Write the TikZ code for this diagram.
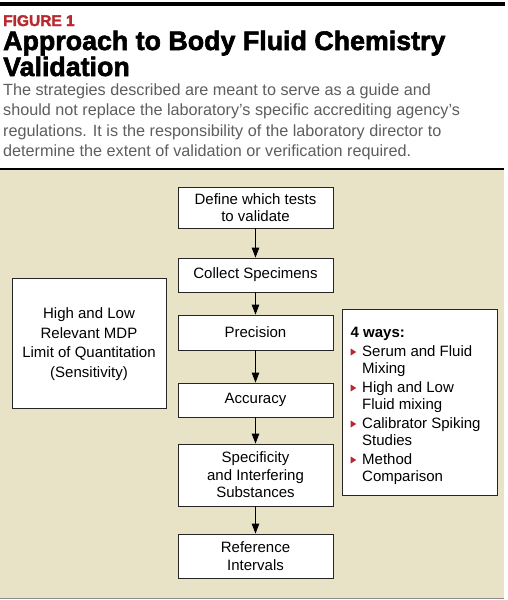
\documentclass[tikz,border=0pt]{standalone}
\usepackage{fontspec}
\setmainfont{Liberation Sans}
\newfontfamily\heavyfont[FakeBold=2.2]{Liberation Sans Bold}
\usetikzlibrary{arrows.meta}
\definecolor{figred}{HTML}{B8292F}
\definecolor{beige}{HTML}{E8E2C7}
\definecolor{paragray}{HTML}{5E5E5E}
\newcommand\redbul{\textcolor{figred}{\tikz[baseline=0pt]\fill (0pt,0.5pt)--(0pt,7.5pt)--(5.5pt,4pt)--cycle;}\hspace{6pt}}
\tikzset{
  stepbox/.style={draw=black!85, line width=0.8pt, fill=white, minimum width=155pt, align=center, inner sep=0pt, font=\fontsize{15}{17.5}\selectfont},
  flow/.style={-{Triangle[width=7.5pt,length=10pt]}, line width=0.8pt, black},
}
\begin{document}
\begin{tikzpicture}[x=1pt,y=-1pt]
\useasboundingbox (0,0) rectangle (508,600);
\fill[white] (0,0) rectangle (508,600);
% header
\fill[black] (0,2) rectangle (505,5.5);
\node[anchor=base west, inner sep=0pt, text=figred, font=\heavyfont\fontsize{15.5}{15.5}\selectfont] (fig) at (3,26) {FIGURE 1};
\node[anchor=base west, inner sep=0pt, font=\heavyfont\fontsize{26.8}{26.8}\selectfont] (t1) at (3,50) {Approach to Body Fluid Chemistry};
\node[anchor=base west, inner sep=0pt, font=\heavyfont\fontsize{26.8}{26.8}\selectfont] (t2) at (3,76) {Validation};
\node[anchor=base west, inner sep=0pt, text=paragray, align=left, font=\fontsize{16.2}{20.5}\selectfont] (para) at (3,156.5) {The strategies described are meant to serve as a guide and\\should not replace the laboratory’s specific accrediting agency’s\\regulations. It is the responsibility of the laboratory director to\\determine the extent of validation or verification required.};
% panel
\fill[beige] (0,169) rectangle (504,597.5);
\draw[black, line width=1.6pt] (0,169) -- (504,169);
\draw[black!45, line width=1pt] (0,598) -- (504,598);
% flow boxes
\node[stepbox, minimum height=41pt] (def) at (255.5,207.5) {Define which tests\\to validate};
\node[stepbox, minimum height=34pt] (col) at (255.5,275) {Collect Specimens};
\node[stepbox, minimum height=35pt] (prec) at (255.5,332.5) {Precision};
\node[stepbox, minimum height=34pt] (acc) at (255.5,400) {Accuracy};
\node[stepbox, minimum height=62pt] (spec) at (255.5,475) {Specificity\\and Interfering\\Substances};
\node[stepbox, minimum height=44pt] (ref) at (255.5,556) {Reference\\Intervals};
\draw[flow] (def) -- (col);
\draw[flow] (col) -- (prec);
\draw[flow] (prec) -- (acc);
\draw[flow] (acc) -- (spec);
\draw[flow] (spec) -- (ref);
% side boxes
\node[stepbox, minimum width=154pt, minimum height=130pt, font=\fontsize{15}{19.5}\selectfont] (left) at (89,343) {};
\node[anchor=center, inner sep=0pt, align=center, font=\fontsize{15}{19.5}\selectfont] (lefttext) at (89,344) {High and Low\\Relevant MDP\\Limit of Quantitation\\(Sensitivity)};
\node[stepbox, minimum width=155pt, minimum height=186pt] (right) at (419.5,402) {};
\node[anchor=base west, inner sep=0pt, align=left, font=\fontsize{15}{17}\selectfont] (ways) at (350.5,481) {\textbf{4 ways:}\\[2pt]
\redbul Serum and Fluid\\\hspace*{11.5pt}Mixing\\[2pt]
\redbul High and Low\\\hspace*{11.5pt}Fluid mixing\\[2pt]
\redbul Calibrator Spiking\\\hspace*{11.5pt}Studies\\[2pt]
\redbul Method\\\hspace*{11.5pt}Comparison};
\end{tikzpicture}
\end{document}
